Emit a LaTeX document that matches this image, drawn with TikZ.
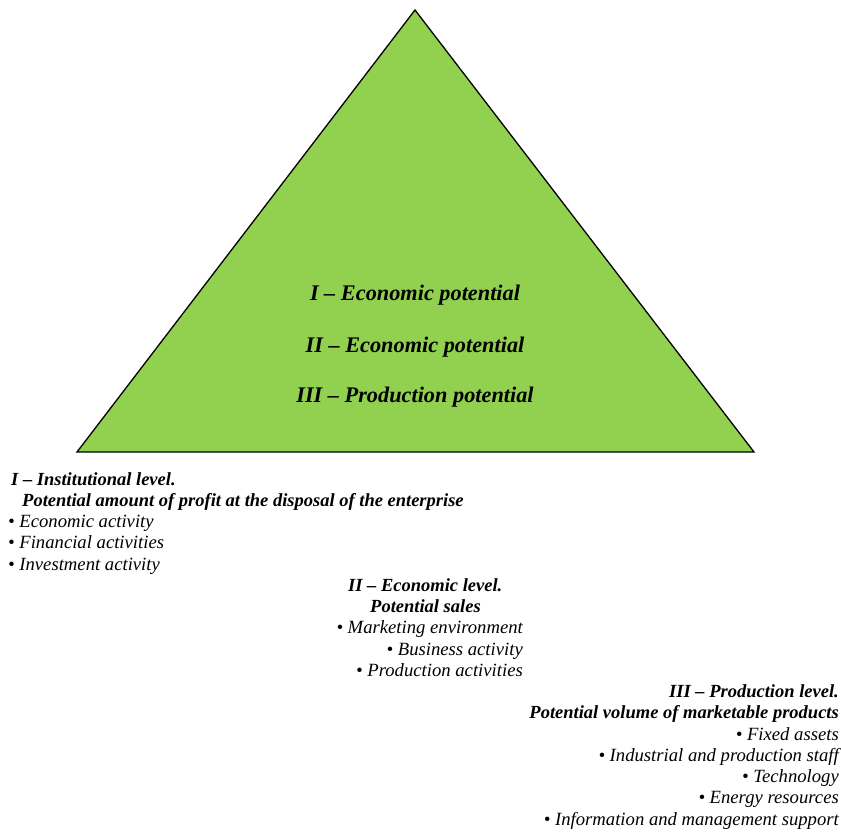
\documentclass[tikz,border=0pt]{standalone}
\usepackage{fontspec}
\setmainfont{Liberation Serif}
\definecolor{trigreen}{HTML}{92D050}
\begin{document}
\begin{tikzpicture}[x=1pt,y=-1pt,
  tri/.style={fill=trigreen,draw=black,line width=1.3pt,line join=miter},
  inner/.style={font=\fontsize{22.3}{26}\selectfont\bfseries\itshape,inner sep=0pt,anchor=base},
  head/.style={font=\fontsize{18.5}{21}\selectfont\bfseries\itshape,inner sep=0pt},
  item/.style={font=\fontsize{18.67}{21}\selectfont\itshape,inner sep=0pt}]
\useasboundingbox (0,0) rectangle (841,831);
\coordinate (apex) at (415,10);
\coordinate (bl) at (77,452);
\coordinate (br) at (754,452);
\draw[tri] (apex) -- (bl) -- (br) -- cycle;
\node[inner] (t1) at (415,300) {I – Economic potential};
\node[inner] (t2) at (415,352) {II – Economic potential};
\node[inner] (t3) at (415,402) {III – Production potential};
% Block I
\node[head,anchor=base west] (a1) at (11,485) {I – Institutional level.};
\node[head,anchor=base west] (a2) at (22,506.25) {Potential amount of profit at the disposal of the enterprise};
\node[item,anchor=base west] (a3) at (8,527.5) {• Economic activity};
\node[item,anchor=base west] (a4) at (8,548.75) {• Financial activities};
\node[item,anchor=base west] (a5) at (8,570) {• Investment activity};
% Block II
\node[head,anchor=base west] (b1) at (348,591.25) {II – Economic level.};
\node[head,anchor=base west] (b2) at (370,612.5) {Potential sales};
\node[item,anchor=base east] (b3) at (523,633.75) {• Marketing environment};
\node[item,anchor=base east] (b4) at (523,655) {• Business activity};
\node[item,anchor=base east] (b5) at (523,676.25) {• Production activities};
% Block III
\node[head,anchor=base east] (c1) at (839,697.5) {III – Production level.};
\node[head,anchor=base east] (c2) at (839,718.75) {Potential volume of marketable products};
\node[item,anchor=base east] (c3) at (839,740) {• Fixed assets};
\node[item,anchor=base east] (c4) at (839,761.25) {• Industrial and production staff};
\node[item,anchor=base east] (c5) at (839,782.5) {• Technology};
\node[item,anchor=base east] (c6) at (839,803.75) {• Energy resources};
\node[item,anchor=base east] (c7) at (839,825) {• Information and management support};
\end{tikzpicture}
\end{document}
